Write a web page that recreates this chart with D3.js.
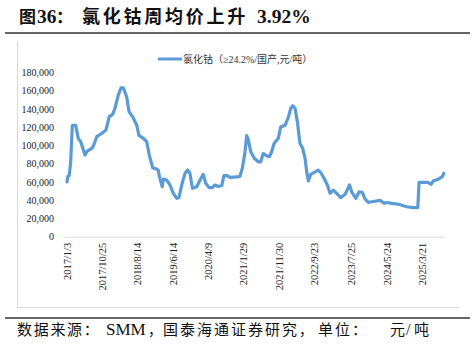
<!DOCTYPE html>
<html>
<head>
<meta charset="utf-8">
<script src="https://cdn.jsdelivr.net/npm/d3@7"></script>
<style>
  html, body { margin: 0; padding: 0; background: #fff; }
  svg { display: block; }
  text { font-family: "Liberation Serif", "Noto Sans CJK SC", serif; }
</style>
</head>
<body>
<svg id="chart" width="475" height="349"></svg>
<script>
// ---- Data ----
const titleParts = ["图", "36", "：", "氯化钴周均价上升", "3.92%"];
const footerParts = ["数据来源：", "SMM", "，", "国泰海通证券研究", "，", "单位：", "元", "/", "吨"];
const seriesName = "氯化钴（≥24.2%/国产,元/吨）";

const dates = ["2017-01-03","2017-01-10","2017-01-22","2017-02-03","2017-02-17","2017-03-17","2017-04-08","2017-04-29","2017-06-04","2017-06-23","2017-07-31","2017-08-13","2017-09-11","2017-10-23","2017-11-28","2017-12-26","2018-01-24","2018-02-12","2018-03-12","2018-04-04","2018-04-24","2018-05-22","2018-06-11","2018-07-17","2018-08-15","2018-09-03","2018-10-10","2018-11-07","2018-11-29","2018-12-28","2019-01-31","2019-02-13","2019-02-22","2019-03-19","2019-03-28","2019-04-25","2019-05-23","2019-06-20","2019-07-19","2019-08-07","2019-08-30","2019-09-27","2019-10-20","2019-11-08","2019-11-28","2020-01-04","2020-02-01","2020-02-28","2020-03-20","2020-04-17","2020-05-14","2020-06-06","2020-07-04","2020-08-02","2020-08-21","2020-09-13","2020-10-11","2020-12-07","2021-01-03","2021-01-23","2021-02-15","2021-03-01","2021-03-15","2021-04-04","2021-05-04","2021-06-07","2021-06-27","2021-07-19","2021-08-11","2021-09-08","2021-09-28","2021-10-18","2021-11-23","2021-12-13","2022-01-19","2022-02-16","2022-03-08","2022-03-25","2022-04-13","2022-05-03","2022-05-25","2022-06-17","2022-07-07","2022-07-21","2022-08-04","2022-08-24","2022-09-30","2022-10-27","2022-11-17","2022-12-15","2023-01-11","2023-02-03","2023-03-03","2023-03-31","2023-05-04","2023-06-10","2023-07-18","2023-08-05","2023-09-08","2023-10-06","2023-11-03","2023-11-25","2023-12-23","2024-01-21","2024-03-31","2024-05-07","2024-05-27","2024-07-08","2024-09-02","2024-11-12","2025-01-07","2025-02-13","2025-02-24","2025-04-01","2025-05-08","2025-06-05","2025-06-24","2025-08-06","2025-09-09","2025-09-20"];

const values = [60000,66000,67000,82000,122000,122000,107700,104000,89400,93800,96800,99000,109500,113000,116800,131400,134000,140600,155000,163000,163000,153000,137000,130000,122000,111000,107700,104000,89400,75500,74000,73000,66000,54700,63000,62000,56600,47500,42000,43000,56600,69400,73000,69000,53000,54700,62000,68300,58500,53700,53700,56600,55000,56000,66800,67000,65000,65400,66000,75000,93000,110600,106000,93000,85800,82000,82000,91000,89000,87600,93000,102000,107700,120000,122000,131000,140600,143400,140600,126000,102000,96800,85800,71000,61000,68300,71000,73000,70000,64000,56600,47500,51000,47500,42700,46400,56600,49000,42000,49000,48500,41300,37600,38300,39800,36500,37500,36500,35500,32800,31800,31800,59500,59500,59500,57400,61000,63000,65700,69400];

const yTicks = [0,20000,40000,60000,80000,100000,120000,140000,160000,180000];
const xTickDates = ["2017-01-03","2017-10-25","2018-08-14","2019-06-14","2020-04-09","2021-01-29","2021-11-30","2022-09-23","2023-07-25","2024-05-24","2025-03-21"];
const xTickLabels = ["2017/1/3","2017/10/25","2018/8/14","2019/6/14","2020/4/9","2021/1/29","2021/11/30","2022/9/23","2023/7/25","2024/5/24","2025/3/21"];

// ---- Drawing ----
const parse = d3.timeParse("%Y-%m-%d");
const data = dates.map((d, i) => ({ date: parse(d), value: values[i] }));
const svg = d3.select("#chart");
const blue = "#5B9BD5";

// Title (layout of the pieces)
const titleLayout = [
  { x: 19, size: 17, ls: 0 },
  { x: 37, size: 19.5, ls: 0 },
  { x: 56, size: 17, ls: 0 },
  { x: 82, size: 18, ls: 2.75 },
  { x: 257, size: 19.5, ls: 0 }
];
const title = svg.append("text").attr("y", 23).attr("font-weight", "bold").attr("fill", "#111");
titleParts.forEach((t, i) => {
  title.append("tspan").attr("x", titleLayout[i].x)
    .attr("font-size", titleLayout[i].size)
    .attr("letter-spacing", titleLayout[i].ls)
    .text(t);
});

// header & footer rules
svg.append("line").attr("x1", 5).attr("x2", 470).attr("y1", 33).attr("y2", 33)
  .attr("stroke", "#333").attr("stroke-width", 1.5);
svg.append("line").attr("x1", 5).attr("x2", 470).attr("y1", 318).attr("y2", 318)
  .attr("stroke", "#333").attr("stroke-width", 1.5);

// chart frame (left and bottom)
svg.append("path").attr("d", "M17.5,42 L17.5,307.5 L459,307.5")
  .attr("fill", "none").attr("stroke", "#d9d9d9").attr("stroke-width", 1);

// footer
const footerLayout = [
  { x: 17, size: 15, ls: 1.7 },
  { x: 106, size: 17, ls: 0 },
  { x: 148, size: 14, ls: 0 },
  { x: 163, size: 15, ls: 2 },
  { x: 299, size: 14, ls: 0 },
  { x: 318, size: 15, ls: 2 },
  { x: 390, size: 15, ls: 0 },
  { x: 406, size: 16, ls: 0 },
  { x: 414, size: 15, ls: 0 }
];
const footer = svg.append("text").attr("y", 335).attr("fill", "#111");
footerParts.forEach((t, i) => {
  footer.append("tspan").attr("x", footerLayout[i].x)
    .attr("font-size", footerLayout[i].size)
    .attr("letter-spacing", footerLayout[i].ls)
    .text(t);
});

// scales
const x = d3.scaleTime()
  .domain([parse("2017-01-03"), parse("2025-09-20")])
  .range([67, 443.7]);
const y = d3.scaleLinear().domain([0, 180000]).range([236.7, 72.3]);

// y axis
const yAxis = svg.append("g").attr("transform", "translate(54,0)")
  .call(d3.axisLeft(y).tickValues(yTicks).tickSize(0).tickPadding(0)
    .tickFormat(d3.format(",")));
yAxis.select(".domain").remove();
yAxis.selectAll("text")
  .attr("font-family", "Liberation Serif, serif")
  .attr("font-size", 10).attr("fill", "#222");

// x axis
const xAxis = svg.append("g").attr("transform", "translate(0,236.7)")
  .call(d3.axisBottom(x).tickValues(xTickDates.map(parse)).tickSize(0)
    .tickFormat((d, i) => xTickLabels[i]));
xAxis.select(".domain").attr("d", "M65,0.5H444").attr("stroke", "#d9d9d9");
xAxis.selectAll("text")
  .attr("font-family", "Liberation Serif, serif")
  .attr("font-size", 10.5).attr("fill", "#222")
  .attr("text-anchor", "end")
  .attr("transform", "translate(0,6) rotate(-90)")
  .attr("x", 0).attr("y", 0).attr("dy", "0.35em");

// line
const line = d3.line().x(d => x(d.date)).y(d => y(d.value));
svg.append("path").datum(data)
  .attr("d", line)
  .attr("fill", "none").attr("stroke", blue)
  .attr("stroke-width", 3.2).attr("stroke-linejoin", "round").attr("stroke-linecap", "round");

// legend
svg.append("line").attr("x1", 158).attr("x2", 182).attr("y1", 59).attr("y2", 59)
  .attr("stroke", blue).attr("stroke-width", 3);
svg.append("text").attr("x", 183).attr("y", 59).attr("dy", "0.35em")
  .attr("font-size", 10).attr("fill", "#333")
  .text(seriesName);
</script>
</body>
</html>
